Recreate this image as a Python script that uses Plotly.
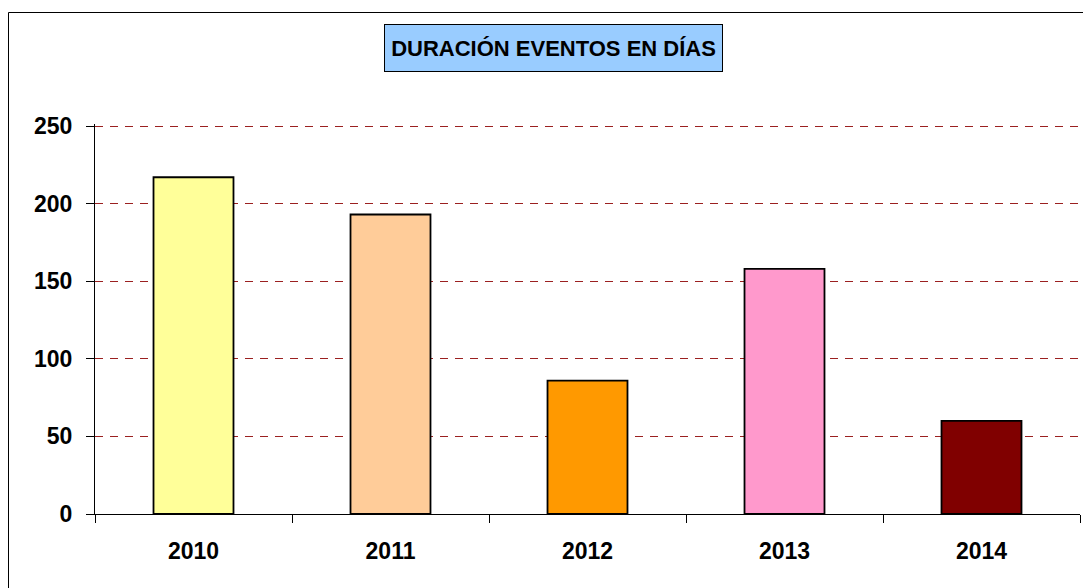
import plotly.graph_objects as go

years = ["2010", "2011", "2012", "2013", "2014"]
durations = [217, 193, 86, 158, 60]
bar_colors = ["#FFFF99", "#FFCC99", "#FF9900", "#FF99CC", "#800000"]
y_ticks = [0, 50, 100, 150, 200, 250]
title_text = "DURACIÓN EVENTOS EN DÍAS"

FONT = "Arial, 'Liberation Sans', sans-serif"

fig = go.Figure()
fig.add_trace(go.Bar(
    x=years, y=durations,
    marker=dict(color=bar_colors, line=dict(color="black", width=1.8)),
    width=0.406,
))

W, H = 1091, 588
ml, mr, mt, mb = 87, 19, 116, 82
pw, ph = W - ml - mr, H - mt - mb

def px_to_paper_x(px):
    return (px - ml) / pw

def px_to_paper_y(py):
    return (H - mb - py) / ph

fig.update_layout(
    width=W, height=H,
    margin=dict(l=ml, r=mr, t=mt, b=mb, pad=0),
    paper_bgcolor="white", plot_bgcolor="white",
    showlegend=False,
    font=dict(family=FONT, color="black"),
    xaxis=dict(
        showline=True, linecolor="black", linewidth=1,
        ticks="outside", ticklen=8, tickcolor="black", tickwidth=1,
        tickson="boundaries",
        tickfont=dict(size=23, family=FONT, weight="bold"),
        ticklabelstandoff=16,
        showgrid=False,
    ),
    yaxis=dict(
        range=[0, 251.3],
        tickvals=y_ticks,
        showline=True, linecolor="black", linewidth=1,
        ticks="outside", ticklen=8, tickcolor="black", tickwidth=1,
        tickfont=dict(size=23, family=FONT, weight="bold"),
        ticklabelstandoff=9,
        showgrid=True, gridcolor="#9B2020", gridwidth=1, griddash="8px,7px",
        zeroline=False,
    ),
)

# outer chart border (extends past the right and bottom edges)
fig.add_shape(
    type="rect", xref="paper", yref="paper",
    x0=px_to_paper_x(0.5), x1=px_to_paper_x(1120),
    y0=px_to_paper_y(620), y1=px_to_paper_y(4.5),
    line=dict(color="black", width=1), fillcolor="rgba(0,0,0,0)",
    layer="below",
)

# title box
fig.add_annotation(
    text=f"<b>{title_text}</b>",
    xref="paper", yref="paper",
    x=px_to_paper_x(545.5), y=px_to_paper_y(40),
    xanchor="center", yanchor="middle",
    showarrow=False,
    font=dict(size=22, family=FONT, color="black"),
    bgcolor="#99CCFF", bordercolor="black", borderwidth=1,
    width=335, height=44, borderpad=1,
)

fig.write_html("out.html")
